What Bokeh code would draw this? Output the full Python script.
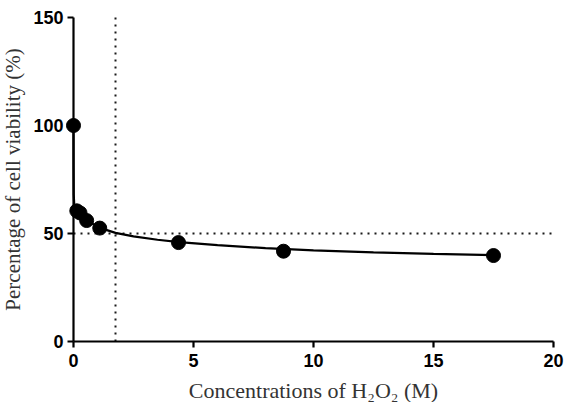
from bokeh.plotting import figure
from bokeh.models import Range1d
from bokeh.embed import file_html
from bokeh.resources import INLINE

# Measured data points
conc = [0.0, 0.137, 0.273, 0.547, 1.094, 4.375, 8.75, 17.5]
viability = [100.0, 60.5, 59.5, 56.0, 52.5, 45.8, 41.8, 39.8]

# Fitted curve
fit_x = [0.0, 0.003, 0.01, 0.03, 0.08, 0.15, 0.3, 0.55, 1.1, 1.75, 2.5, 3.5, 4.4, 6.0, 8.0, 10.0, 12.5, 15.0, 17.5]
fit_y = [100.0, 80.0, 68.0, 63.5, 61.2, 60.2, 58.8, 56.0, 52.6, 50.3, 48.7, 47.1, 46.0, 44.6, 43.2, 42.2, 41.3, 40.6, 40.0]

x_ticks = [0, 5, 10, 15, 20]
y_ticks = [0, 50, 100, 150]
ic50_x = 1.75
half_y = 50

px_per_x = 24.0
px_per_y = 2.16

p = figure(width=574, height=402, output_backend="svg", toolbar_location=None,
           x_range=Range1d(-73 / px_per_x, 20 + 21 / px_per_x),
           y_range=Range1d(-61 / px_per_y, 150 + 17 / px_per_y),
           min_border=0, min_border_left=0, min_border_right=0,
           min_border_top=0, min_border_bottom=0)
p.outline_line_color = None
p.grid.visible = False
p.background_fill_color = "white"
p.border_fill_color = "white"

# reference dotted lines
p.segment(x0=[x_ticks[0]], y0=[half_y], x1=[x_ticks[-1]], y1=[half_y],
          line_color="#1a1a1a", line_width=2, line_dash="2 5")
p.segment(x0=[ic50_x], y0=[y_ticks[0]], x1=[ic50_x], y1=[y_ticks[-1]],
          line_color="#1a1a1a", line_width=2, line_dash="2 5")

p.line(fit_x, fit_y, line_color="black", line_width=2.2)
p.scatter(conc, viability, size=14, color="black")

for ax in (p.xaxis[0], p.yaxis[0]):
    ax.fixed_location = 0
    ax.axis_line_width = 2.2
    ax.axis_line_color = "black"
    ax.major_tick_line_width = 2.2
    ax.major_tick_out = 6
    ax.major_tick_in = 0
    ax.minor_tick_line_color = None
    ax.major_label_text_font = "Liberation Sans"
    ax.major_label_text_font_style = "bold"
    ax.major_label_text_font_size = "18px"
    ax.major_label_text_color = "black"
    ax.axis_label_text_font = "Liberation Serif"
    ax.axis_label_text_font_style = "normal"
    ax.axis_label_text_color = "#333333"

p.xaxis.axis_label_text_font_size = "22px"
p.yaxis.axis_label_text_font_size = "21px"
p.xaxis.bounds = (x_ticks[0], x_ticks[-1])
p.yaxis.bounds = (y_ticks[0], y_ticks[-1])
p.xaxis.ticker = x_ticks
p.yaxis.ticker = y_ticks
p.xaxis.major_label_standoff = 6
p.yaxis.major_label_standoff = 4
p.xaxis.axis_label = "Concentrations of H\u2082O\u2082 (M)"
p.yaxis.axis_label = "Percentage of cell viability (%)"
p.xaxis.axis_label_standoff = 8
p.yaxis.axis_label_standoff = 5

open("out.html", "w").write(file_html(p, INLINE))
